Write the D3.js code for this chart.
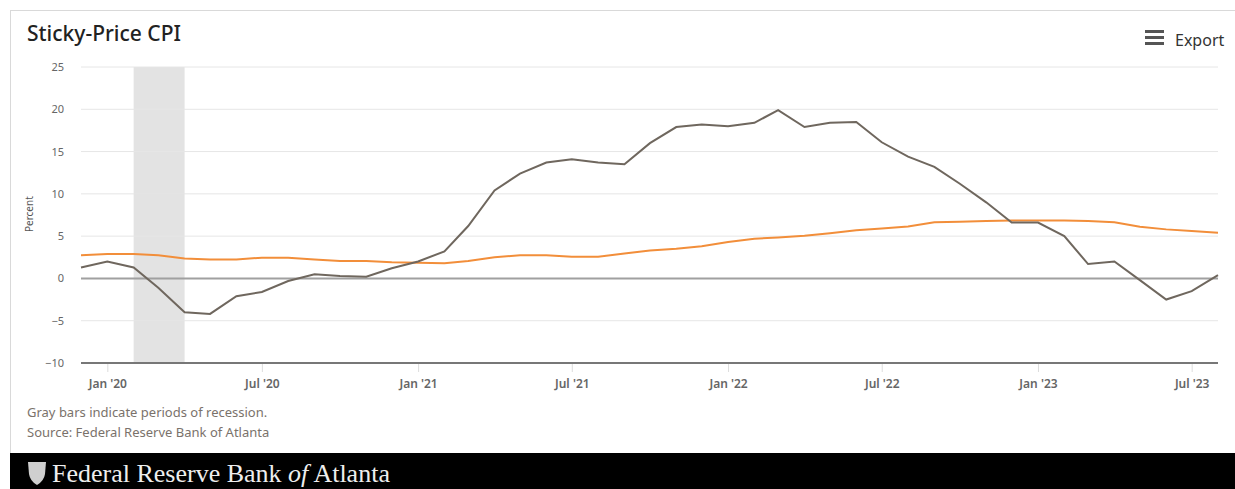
<!DOCTYPE html>
<html>
<head>
<meta charset="utf-8">
<script src="https://cdn.jsdelivr.net/npm/d3@7"></script>
<style>
  body { margin: 0; background: #fff; font-family: "Noto Sans", "Open Sans", sans-serif; }
  svg { display: block; }
</style>
</head>
<body>
<svg id="chart" width="1235" height="489"></svg>
<script>
// monthly, Dec 2019 .. Aug 2023
var startMonth = "2019-12";
var flexValues = [1.3, 2.0, 1.3, -1.1, -4.0, -4.2, -2.1, -1.6, -0.3, 0.5, 0.3, 0.2,
  1.2, 2.0, 3.2, 6.2, 10.4, 12.4, 13.7, 14.1, 13.7, 13.5, 16.0, 17.9,
  18.2, 18.0, 18.4, 19.9, 17.9, 18.4, 18.5, 16.1, 14.4, 13.2, 11.2, 9.0,
  6.6, 6.6, 5.0, 1.7, 2.0, -0.2, -2.5, -1.5, 0.4];
var stickyValues = [2.75, 2.9, 2.9, 2.75, 2.35, 2.25, 2.25, 2.45, 2.45, 2.25, 2.05, 2.05,
  1.9, 1.85, 1.8, 2.05, 2.5, 2.75, 2.75, 2.55, 2.55, 2.95, 3.3, 3.5,
  3.8, 4.3, 4.7, 4.85, 5.05, 5.35, 5.7, 5.9, 6.15, 6.65, 6.7, 6.8,
  6.85, 6.85, 6.85, 6.8, 6.65, 6.1, 5.8, 5.6, 5.4];
var recessions = [["2020-02", "2020-04"]];
var yTicks = [-10, -5, 0, 5, 10, 15, 20, 25];
var xTickMonths = ["2020-01", "2020-07", "2021-01", "2021-07", "2022-01", "2022-07", "2023-01", "2023-07"];

var parse = d3.timeParse("%Y-%m");
var start = parse(startMonth);
var dates = flexValues.map(function(v, i){ return d3.timeMonth.offset(start, i); });

var svg = d3.select("#chart");
var plotLeft = 81, plotRight = 1218, plotTop = 67, plotBottom = 363;

var x = d3.scaleTime()
  .domain([dates[0], dates[dates.length - 1]])
  .range([plotLeft, plotRight]);
var y = d3.scaleLinear().domain([-10, 25]).range([plotBottom, plotTop]);

// card border
svg.append("rect")
  .attr("x", 10.5).attr("y", 10.5)
  .attr("width", 1240).attr("height", 460)
  .attr("fill", "#fff").attr("stroke", "#d9d9d9");

svg.append("text")
  .attr("x", 27).attr("y", 41)
  .attr("font-size", 21).attr("font-weight", 500).attr("fill", "#222")
  .text("Sticky-Price CPI");

// export button
var exp = svg.append("g").attr("transform", "translate(1145,30)");
[0, 6, 12].forEach(function(d){
  exp.append("rect").attr("x", 0).attr("y", d).attr("width", 19).attr("height", 3).attr("fill", "#555");
});
svg.append("text")
  .attr("x", 1175).attr("y", 46)
  .attr("font-size", 16).attr("fill", "#333")
  .text("Export");

// recession bars
svg.append("g").selectAll("rect")
  .data(recessions)
  .enter().append("rect")
  .attr("x", function(d){ return x(parse(d[0])); })
  .attr("width", function(d){ return x(parse(d[1])) - x(parse(d[0])); })
  .attr("y", plotTop).attr("height", plotBottom - plotTop)
  .attr("fill", "#e3e3e3");

// gridlines
svg.append("g").selectAll("line")
  .data(yTicks.filter(function(t){ return t !== -10 && t !== 0; }))
  .enter().append("line")
  .attr("x1", plotLeft).attr("x2", plotRight)
  .attr("y1", function(d){ return y(d); }).attr("y2", function(d){ return y(d); })
  .attr("stroke", "#e6e6e6");

// y axis labels
var yAxis = d3.axisLeft(y).tickValues(yTicks).tickSize(0).tickPadding(0);
var yg = svg.append("g").attr("transform", "translate(64,0)").call(yAxis);
yg.select(".domain").remove();
yg.selectAll("text").attr("font-size", 11).attr("fill", "#666")
  .attr("font-family", "Noto Sans, sans-serif");

svg.append("text")
  .attr("transform", "translate(33," + (y(5) - 22) + ") rotate(-90)")
  .attr("text-anchor", "middle")
  .attr("font-size", 10).attr("fill", "#555")
  .text("Percent");

// zero line
svg.append("line")
  .attr("x1", plotLeft).attr("x2", plotRight)
  .attr("y1", y(0)).attr("y2", y(0))
  .attr("stroke", "#a0a0a0").attr("stroke-width", 2);

// x axis
var xAxis = d3.axisBottom(x)
  .tickValues(xTickMonths.map(parse))
  .tickSize(9).tickPadding(7)
  .tickFormat(d3.timeFormat("%b '%y"));
var xg = svg.append("g").attr("transform", "translate(0," + plotBottom + ")").call(xAxis);
xg.select(".domain").remove();
xg.selectAll(".tick line").attr("stroke", "#ddd");
xg.selectAll("text").attr("font-size", 12).attr("fill", "#666")
  .attr("font-weight", 600).attr("font-family", "Noto Sans, sans-serif");
svg.append("line")
  .attr("x1", plotLeft).attr("x2", plotRight)
  .attr("y1", plotBottom).attr("y2", plotBottom)
  .attr("stroke", "#777").attr("stroke-width", 2);

// lines
var line = d3.line()
  .x(function(d, i){ return x(dates[i]); })
  .y(function(d){ return y(d); });

svg.append("path").datum(stickyValues)
  .attr("d", line).attr("fill", "none")
  .attr("stroke", "#f28e3a").attr("stroke-width", 2);

svg.append("path").datum(flexValues)
  .attr("d", line).attr("fill", "none")
  .attr("stroke", "#6f675e").attr("stroke-width", 2);

// notes
svg.append("text").attr("x", 27).attr("y", 417)
  .attr("font-size", 13).attr("fill", "#7a726b")
  .text("Gray bars indicate periods of recession.");
svg.append("text").attr("x", 27).attr("y", 437)
  .attr("font-size", 13).attr("fill", "#7a726b")
  .text("Source: Federal Reserve Bank of Atlanta");

// footer band
svg.append("rect").attr("x", 10).attr("y", 453).attr("width", 1225).attr("height", 36).attr("fill", "#000");
svg.append("path")
  .attr("d", "M28,462 L46,462 L45,474 Q44,481 37,485 Q30,481 29,474 Z")
  .attr("fill", "#cfcfcf");
var ft = svg.append("text").attr("x", 52).attr("y", 482)
  .attr("font-size", 26).attr("fill", "#eee")
  .attr("font-family", "Liberation Serif, serif");
ft.append("tspan").text("Federal Reserve Bank ");
ft.append("tspan").attr("font-style", "italic").text("of");
ft.append("tspan").text(" Atlanta");
</script>
</body>
</html>
